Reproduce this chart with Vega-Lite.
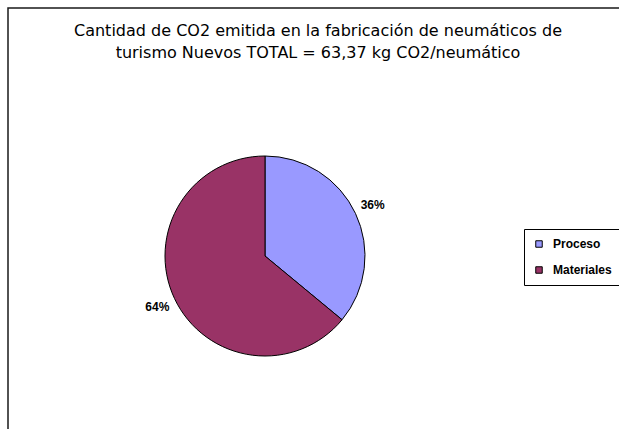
{
  "$schema": "https://vega.github.io/schema/vega-lite/v6.json",
  "width": 620,
  "height": 430,
  "autosize": {"type": "none"},
  "padding": {"left": 8, "top": 8, "right": 0, "bottom": 0},
  "background": "white",
  "config": {
    "view": {"stroke": "#1a1a1a", "strokeWidth": 1.5},
    "font": "Liberation Sans"
  },
  "title": {
    "text": [
      "Cantidad de CO2 emitida en la fabricación de neumáticos de",
      "turismo  Nuevos TOTAL = 63,37 kg CO2/neumático"
    ],
    "font": "DejaVu Sans",
    "fontSize": 16,
    "fontWeight": "normal",
    "color": "#000000",
    "anchor": "middle",
    "baseline": "top",
    "lineHeight": 22,
    "offset": -53,
    "frame": "group"
  },
  "data": {
    "values": [
      {"categoria": "Proceso", "porcentaje": 0.36},
      {"categoria": "Materiales", "porcentaje": 0.64}
    ]
  },
  "encoding": {
    "theta": {"field": "porcentaje", "type": "quantitative", "stack": true},
    "order": {"field": "porcentaje", "type": "quantitative", "sort": "ascending"},
    "x": {"value": 257},
    "y": {"value": 248}
  },
  "layer": [
    {
      "mark": {"type": "arc", "outerRadius": 100, "stroke": "#000000", "strokeWidth": 1},
      "encoding": {
        "color": {
          "field": "categoria",
          "type": "nominal",
          "sort": ["Proceso", "Materiales"],
          "scale": {"domain": ["Proceso", "Materiales"], "range": ["#9999FF", "#993366"]},
          "legend": {
            "title": null,
            "orient": "none",
            "legendX": 516,
            "legendY": 221,
            "strokeColor": "#000000",
            "fillColor": "#ffffff",
            "padding": 9,
            "symbolType": "square",
            "symbolSize": 42,
            "symbolStrokeColor": "#000000",
            "symbolStrokeWidth": 1,
            "labelFont": "Liberation Sans",
            "labelFontSize": 12,
            "labelFontWeight": "bold",
            "labelColor": "#000000",
            "labelOffset": 8,
            "rowPadding": 14
          }
        }
      }
    },
    {
      "mark": {"type": "text", "radius": 119, "font": "Liberation Sans", "fontSize": 12, "fontWeight": "bold", "color": "#000000"},
      "encoding": {
        "text": {"field": "porcentaje", "type": "quantitative", "format": ".0%"}
      }
    }
  ]
}
